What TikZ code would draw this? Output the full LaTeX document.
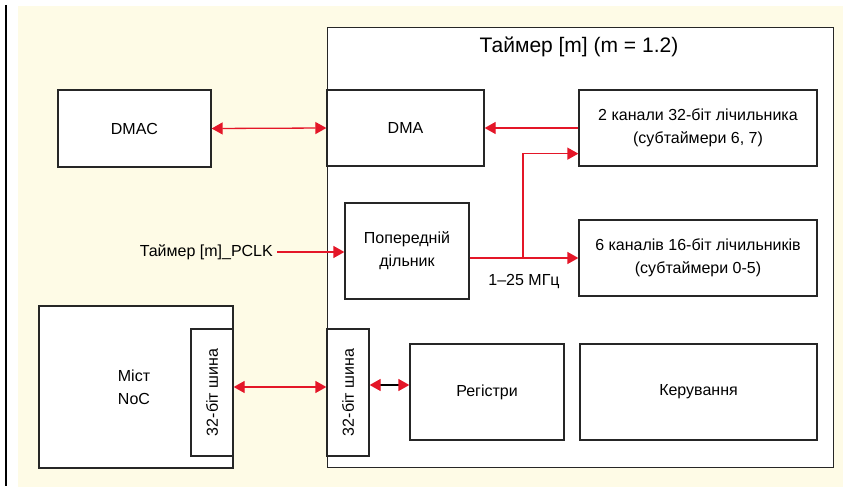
\documentclass[tikz,border=0pt]{standalone}
\usepackage{fontspec}
\setmainfont{Liberation Sans}
\usetikzlibrary{arrows.meta,calc}
\definecolor{cream}{RGB}{254,251,230}
\definecolor{sred}{RGB}{228,22,40}
\begin{document}
\begin{tikzpicture}[x=1pt,y=-1pt,
  box/.style={draw=black!85,line width=1.3pt,fill=white,inner sep=0pt,align=center,font=\fontsize{16}{23}\selectfont},
  txt/.style={inner sep=0pt,align=center,font=\fontsize{16}{23}\selectfont},
  link/.style={draw=sred,line width=1.3pt},
  arr/.style={link,-{Triangle[length=11pt,width=12pt]}},
  darr/.style={link,{Triangle[length=11pt,width=12pt]}-{Triangle[length=11pt,width=12pt]}},
  bdarr/.style={draw=black,line width=1.3pt,{Triangle[length=11pt,width=12pt,color=sred]}-{Triangle[length=11pt,width=12pt,color=sred]}}
]
\useasboundingbox (0,0) rectangle (843,487);
\fill[cream] (18,6) rectangle (843,487);
\draw[line width=2.2pt] (6,5) -- (6,486);

% boxes
\node[box,anchor=north west,minimum width=506,minimum height=440] (timer) at (327,27) {};
\node[txt,font=\fontsize{21}{24}\selectfont] (title) at (579,47) {Таймер [m] (m = 1.2)};
\node[box,minimum width=153,minimum height=77] (dmac) at (134.5,128.5) {DMAC};
\node[box,minimum width=157,minimum height=76] (dma) at (405.5,128) {DMA};
\node[box,minimum width=238,minimum height=76] (two) at (698,128) {2 канали 32-біт лічильника\\(субтаймери 6, 7)};
\node[box,minimum width=124,minimum height=96] (pre) at (407,251) {Попередній\\дільник};
\node[box,minimum width=238,minimum height=76] (six) at (698,258) {6 каналів 16-біт лічильників\\(субтаймери 0-5)};
\node[box,minimum width=194,minimum height=162] (noc) at (136,387) {};
\node[txt] (noclabel) at (134,387) {Міст\\NoC};
\node[box,minimum width=42,minimum height=127] (nbus) at (212,392.5) {};
\node[txt,rotate=90] (nbustext) at (212,392.5) {32-біт шина};
\node[box,minimum width=42,minimum height=127] (tbus) at (348,392.5) {};
\node[txt,rotate=90] (tbustext) at (348,392.5) {32-біт шина};
\node[box,minimum width=154,minimum height=96] (reg) at (487,392) {Регістри};
\node[box,minimum width=237,minimum height=96] (ctl) at (698.5,392) {Керування};

\node[txt,anchor=east,inner sep=4pt] (pclk) at (277,252) {Таймер [m]\_PCLK};
\node[txt] (freq) at (524,282) {1–25 МГц};

% connectors
\draw[darr] (dmac.east) -- (dma.west);
\draw[arr] (two.west) -- (dma.east);
\draw[arr] (pclk.east) -- (pclk.east -| pre.west);
\draw[arr] (pre.east |- six.west) -- (six.west);
\coordinate (br) at (523,258);
\coordinate (tin) at ($(two.south west)+(0,-13)$);
\draw[arr] (br) |- (tin);
\draw[darr] (nbus.east |- 0,387) -- (tbus.west |- 0,387);
\draw[bdarr] (tbus.east |- 0,385) -- (reg.west |- 0,385);
\end{tikzpicture}
\end{document}
